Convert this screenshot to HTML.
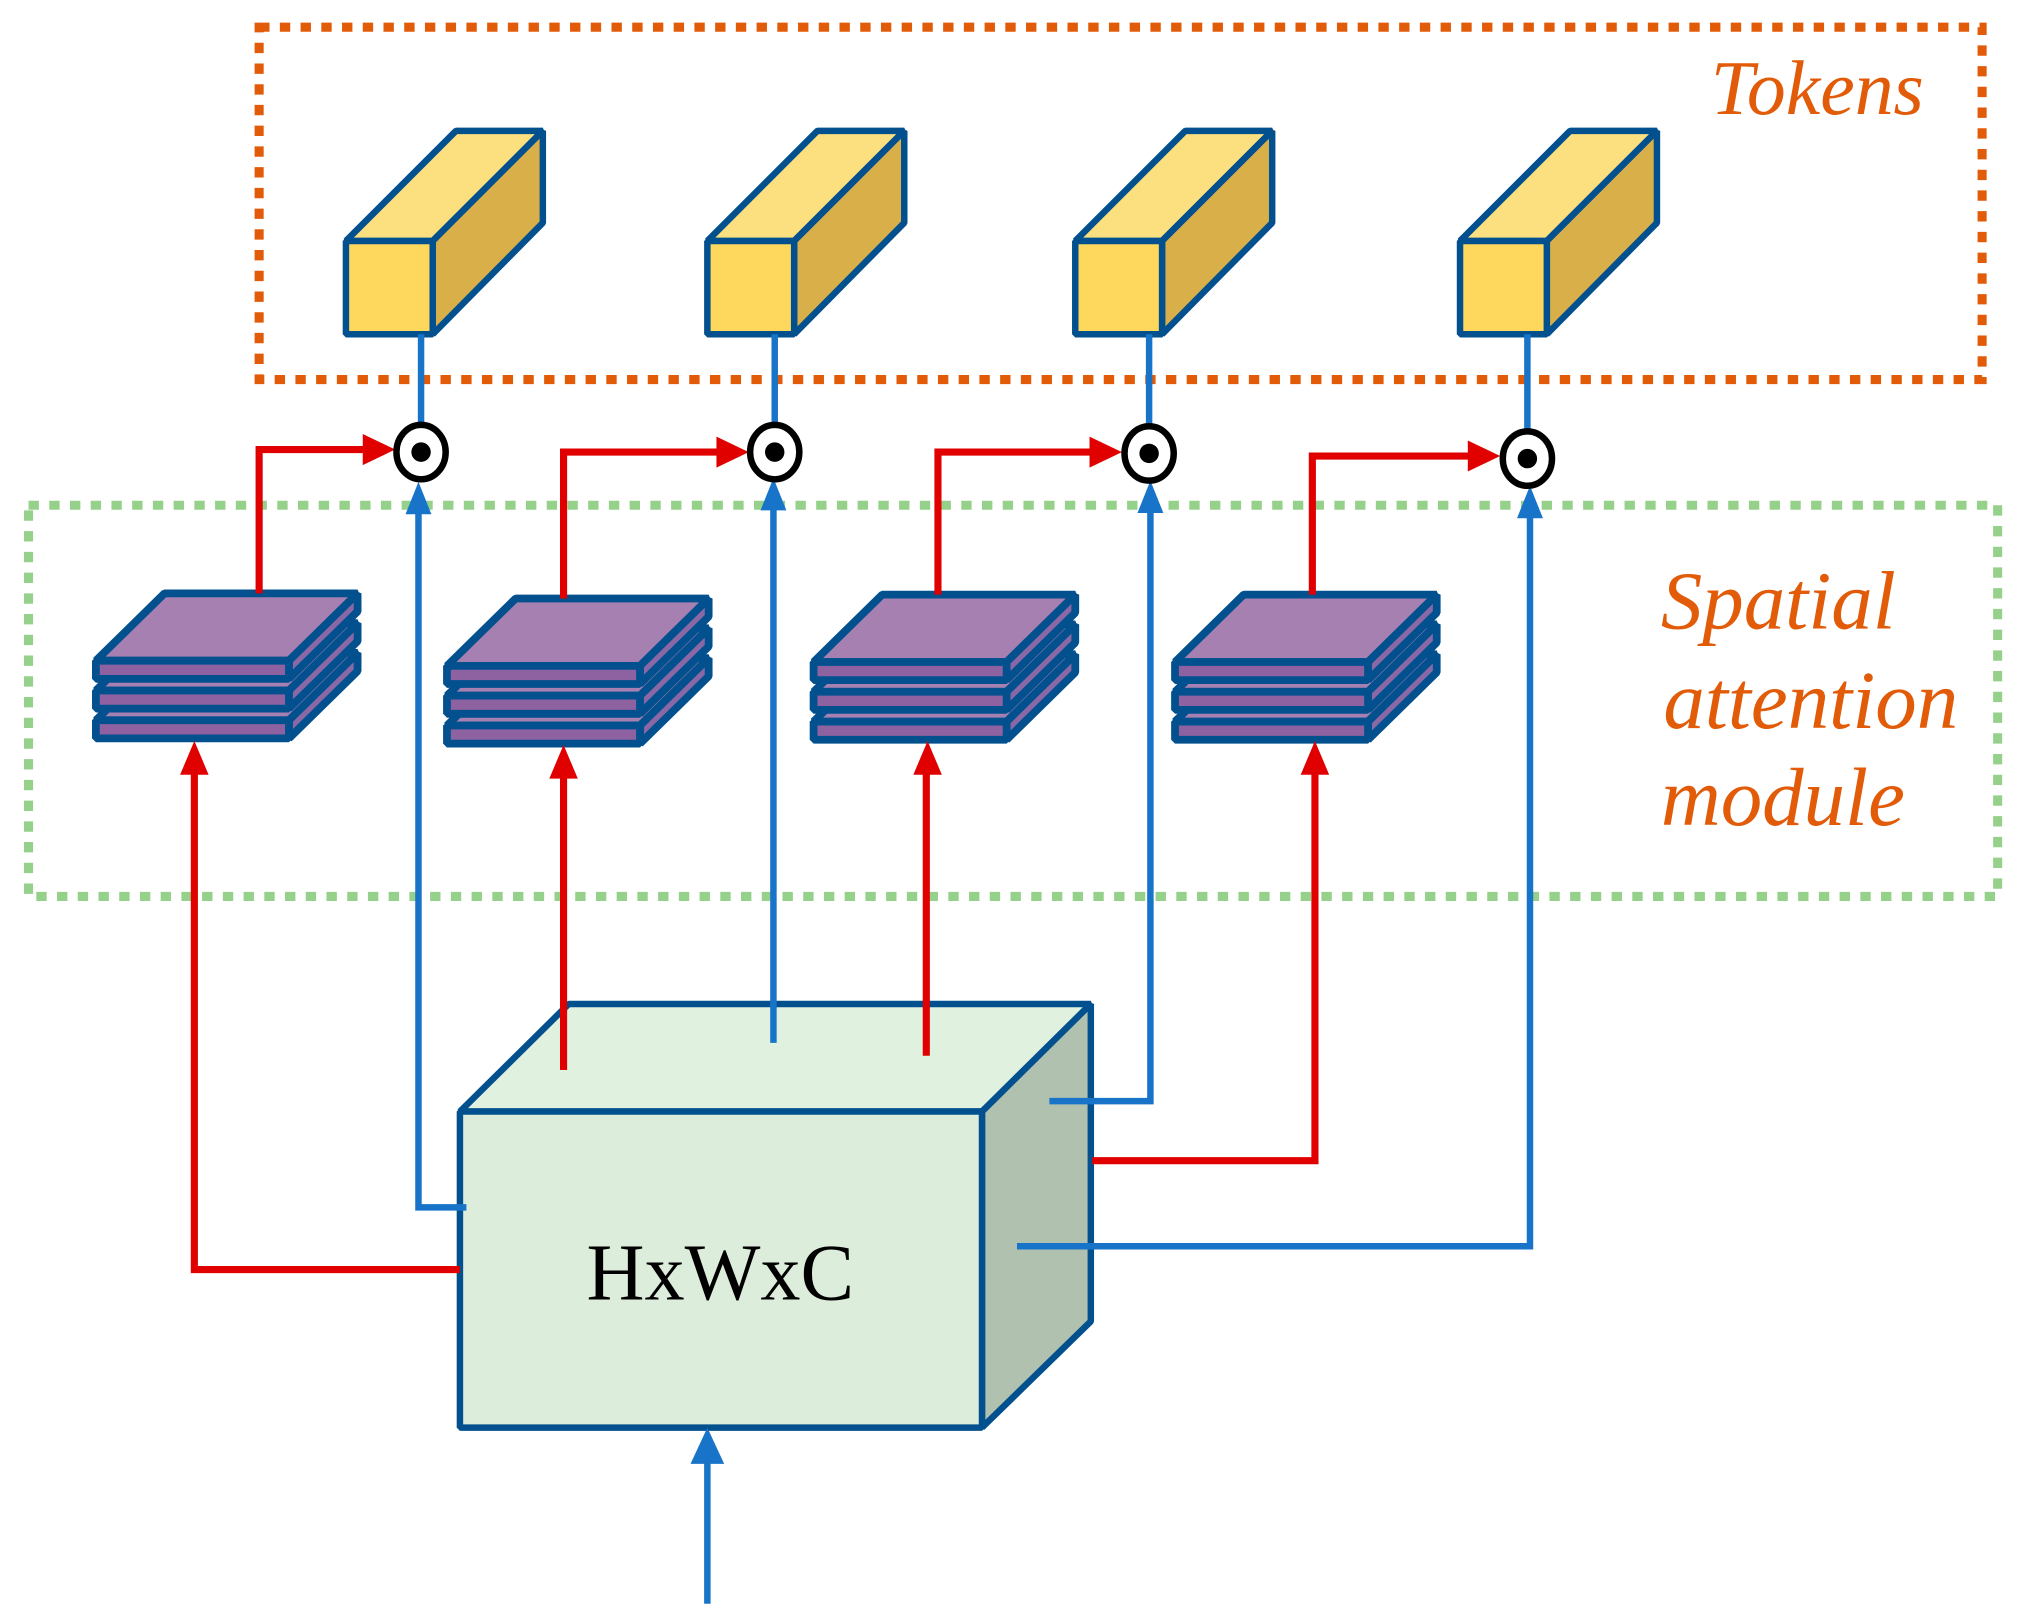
<!DOCTYPE html>
<html><head><meta charset="utf-8"><style>html,body{margin:0;padding:0;background:#fff}svg{display:block}</style></head>
<body>
<svg width="2021" height="1624" viewBox="0 0 1560 1253.6" xmlns="http://www.w3.org/2000/svg">
<defs>
<g id="tok" stroke="#03508F" stroke-width="5" stroke-linejoin="bevel">
<polygon points="0,85 67,85 152,0 85,0" fill="#FCE07F"/>
<polygon points="67,85 152,0 152,71 67,157" fill="#D9AF4A"/>
<rect x="0" y="85" width="67" height="72" fill="#FDD85D"/>
</g>
<g id="slab" stroke="#03508F" stroke-width="6" stroke-linejoin="bevel">
<polygon points="0,52 149,52 202,0 53,0" fill="#A580B0"/>
<polygon points="149,52 202,0 202,14 149,66" fill="#8A68A6"/>
<rect x="0" y="52" width="149" height="14" fill="#8E62A0"/>
</g>
<g id="stack">
<use href="#slab" y="46"/><use href="#slab" y="23"/><use href="#slab" y="0"/>
</g>
<g id="odot"><ellipse cx="0" cy="0" rx="19" ry="21" fill="#fff" stroke="#000" stroke-width="5"/><circle r="7.5" fill="#000"/></g>
</defs>

<rect x="200" y="21" width="1330" height="272" fill="none" stroke="#E15B08" stroke-width="7" stroke-dasharray="8,8"/>
<rect x="22" y="390" width="1520" height="302" fill="none" stroke="#95D18A" stroke-width="7" stroke-dasharray="8,8"/>

<text x="1485" y="88" text-anchor="end" font-family="Liberation Serif, serif" font-style="italic" font-size="60" fill="#E15B08">Tokens</text>
<text font-family="Liberation Serif, serif" font-style="italic" font-size="64" fill="#E15B08"><tspan x="1282" y="485">Spatial</tspan><tspan x="1284" y="562">attention</tspan><tspan x="1282" y="637">module</tspan></text>

<use href="#tok" x="267" y="101"/>
<use href="#tok" x="546" y="101"/>
<use href="#tok" x="830" y="101"/>
<use href="#tok" x="1127" y="101"/>

<use href="#stack" x="74" y="458"/>
<use href="#stack" x="345" y="462"/>
<use href="#stack" x="628" y="459"/>
<use href="#stack" x="907" y="459"/>

<g stroke="#03508F" stroke-width="5" stroke-linejoin="bevel">
<polygon points="355,858 758,858 842,775 439,775" fill="#E1F1E0"/>
<polygon points="758,858 842,775 842,1020 758,1102" fill="#B0C2AF"/>
<rect x="355" y="858" width="403" height="244" fill="#DCEEDB"/>
</g>
<text x="556" y="1003" text-anchor="middle" font-family="Liberation Serif, serif" font-size="62" fill="#000">HxWxC</text>

<g fill="none" stroke="#1874C8" stroke-width="5">
<line x1="325" y1="258" x2="325" y2="330"/>
<line x1="598" y1="258" x2="598" y2="330"/>
<line x1="887" y1="258" x2="887" y2="330"/>
<line x1="1179" y1="258" x2="1179" y2="334"/>
<polyline points="360,932 323,932 323,385"/>
<line x1="597" y1="805" x2="597" y2="385"/>
<polyline points="810,850 888,850 888,385"/>
<polyline points="785,962 1181,962 1181,390"/>
<line x1="546" y1="1238" x2="546" y2="1120"/>
</g>
<g fill="#1874C8">
<polygon points="323,372 313,397 333,397"/>
<polygon points="597,369 587,394 607,394"/>
<polygon points="888,371 878,396 898,396"/>
<polygon points="1181,375 1171,400 1191,400"/>
<polygon points="546,1102 533,1130 559,1130"/>
</g>

<g fill="none" stroke="#E00000" stroke-width="5.5">
<polyline points="200,458 200,347 285,347"/>
<polyline points="435,462 435,349 558,349"/>
<polyline points="724,459 724,349 846,349"/>
<polyline points="1013,459 1013,352 1138,352"/>
<polyline points="355,980 150,980 150,595"/>
<line x1="435" y1="826" x2="435" y2="598"/>
<line x1="715" y1="815" x2="715" y2="596"/>
<polyline points="843,896 1015,896 1015,596"/>
</g>
<g fill="#E00000">
<polygon points="305,347 280,335 280,359"/>
<polygon points="578,349 553,337 553,361"/>
<polygon points="866,349 841,337 841,361"/>
<polygon points="1158,352 1133,340 1133,364"/>
<polygon points="150,572 139,598 161,598"/>
<polygon points="435,575 424,601 446,601"/>
<polygon points="716,572 705,598 727,598"/>
<polygon points="1015,572 1004,598 1026,598"/>
</g>

<use href="#odot" x="325" y="349"/>
<use href="#odot" x="598" y="349"/>
<use href="#odot" x="887" y="350"/>
<use href="#odot" x="1179" y="354"/>
</svg>
</body></html>
